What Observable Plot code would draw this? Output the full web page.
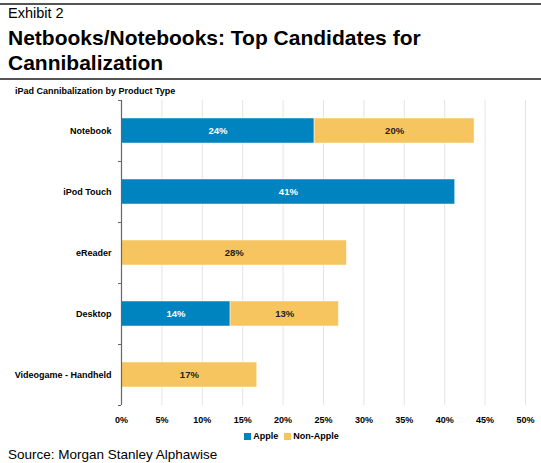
<!DOCTYPE html>
<html>
<head>
<meta charset="utf-8">
<script src="https://cdn.jsdelivr.net/npm/d3@7"></script>
<script src="https://cdn.jsdelivr.net/npm/@observablehq/plot@0.6"></script>
<style>
  body { margin: 0; background: #fff; font-family: "Liberation Sans", Arial, sans-serif; }
  #wrap { position: relative; width: 541px; height: 463px; overflow: hidden; }
  .rule { position: absolute; left: 0; width: 541px; height: 2px; background: #555; }
  .txt { position: absolute; white-space: nowrap; color: #000; }
  #chart { position: absolute; left: 0; top: 95px; }
  #legend { position: absolute; top: 431px; left: 0; width: 541px; text-align: center; font-weight: bold; font-size: 9px; padding-left: 42px; box-sizing: border-box; }
  #legend span.sw { display: inline-block; width: 7px; height: 7px; margin-right: 2px; vertical-align: -0.5px; }
  #legend span.item { margin: 0 3px; }
</style>
</head>
<body>
<div id="wrap">
  <div class="rule" style="top:3px"></div>
  <div class="txt" style="left:8px; top:5px; font-size:14.5px;">Exhibit 2</div>
  <div class="txt" style="left:8px; top:25px; font-size:21px; font-weight:bold; line-height:25px;">Netbooks/Notebooks: Top Candidates for<br>Cannibalization</div>
  <div class="rule" style="top:78px"></div>
  <div class="txt" style="left:15px; top:86px; font-size:9px; font-weight:bold;">iPad Cannibalization by Product Type</div>
  <div id="chart"></div>
  <div id="legend"></div>
  <div class="txt" style="left:8px; top:447px; font-size:13.5px;">Source: Morgan Stanley Alphawise</div>
</div>
<script>
const categories = ["Notebook", "iPod Touch", "eReader", "Desktop", "Videogame - Handheld"];
const series = ["Apple", "Non-Apple"];
const colors = ["#0084BF", "#F6C55F"];
const appleValues = [23.9, 41.3, 0, 13.5, 0];
const nonAppleValues = [19.8, 0, 27.9, 13.4, 16.8];
const appleLabels = ["24%", "41%", "", "14%", ""];
const nonAppleLabels = ["20%", "", "28%", "13%", "17%"];
const xTicks = [0, 5, 10, 15, 20, 25, 30, 35, 40, 45, 50];

const data = [];
categories.forEach((c, i) => {
  data.push({category: c, series: "Apple", value: appleValues[i], label: appleLabels[i]});
  data.push({category: c, series: "Non-Apple", value: nonAppleValues[i], label: nonAppleLabels[i]});
});
const shown = data.filter(d => d.value > 0);

const font = "Liberation Sans, Arial, sans-serif";
const plot = Plot.plot({
  width: 541,
  height: 335,
  marginLeft: 121,
  marginRight: 16,
  marginTop: 5,
  marginBottom: 25,
  style: {fontFamily: font, fontSize: "9px", fontWeight: "bold", color: "#000", background: "transparent"},
  x: {domain: [0, 50], ticks: xTicks},
  y: {domain: categories, paddingInner: 0.59, paddingOuter: 0.295, align: 0.5},
  color: {domain: series, range: colors},
  marks: [
    Plot.gridX(xTicks.filter(t => t > 0), {stroke: "#e4e4e4", strokeOpacity: 1, strokeWidth: 1}),
    Plot.barX(shown, Plot.stackX({y: "category", x: "value", fill: "series", order: series, stroke: "#ffffff", strokeOpacity: 0.6, strokeWidth: 0.8})),
    Plot.text(shown, Plot.stackX({y: "category", x: "value", order: series, text: "label",
      fill: d => d.series === "Apple" ? "#ffffff" : "#222222", fontWeight: "bold", fontSize: 9.5})),
    Plot.ruleX([0], {stroke: "#666", strokeWidth: 1.2}),
    Plot.axisX({ticks: xTicks, tickSize: 0, tickPadding: 11, tickFormat: d => d + "%", fontWeight: "bold", fontSize: 9, label: null}),
    Plot.axisY({tickSize: 0, tickPadding: 10, fontWeight: "bold", fontSize: 9, label: null}),
    Plot.axisY({tickSize: 3, text: null, dy: -30.5, stroke: "#666", label: null}),
    Plot.axisY({ticks: categories.slice(-1), tickSize: 3, text: null, dy: 30.5, stroke: "#666", label: null})
  ]
});
document.getElementById("chart").appendChild(plot);

const legend = document.getElementById("legend");
series.forEach((s, i) => {
  const item = document.createElement("span");
  item.className = "item";
  const sw = document.createElement("span");
  sw.className = "sw";
  sw.style.background = colors[i];
  item.appendChild(sw);
  item.appendChild(document.createTextNode(s));
  legend.appendChild(item);
});
</script>
</body>
</html>
